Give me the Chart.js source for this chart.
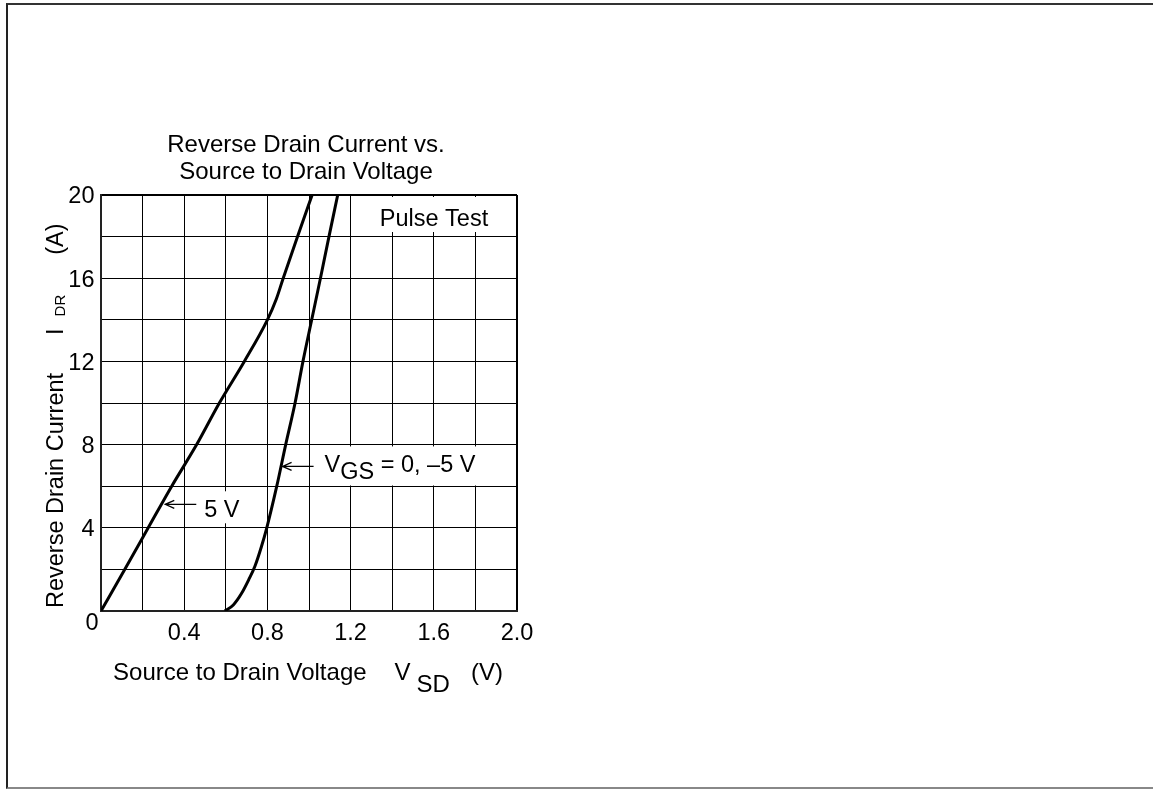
<!DOCTYPE html>
<html><head><meta charset="utf-8">
<script src="https://cdn.jsdelivr.net/npm/chart.js@4.4.0/dist/chart.umd.min.js"></script>
<style>
html,body{margin:0;padding:0;background:#fff;}
#wrap{position:relative;width:1153px;height:789px;overflow:hidden;}
#frame{position:absolute;left:6px;top:3px;width:1200px;height:782px;border-left:2px solid #222;border-top:2px solid #333;border-bottom:2px solid #888;}
canvas{position:absolute;left:0;top:0;}
</style></head><body>
<div id="wrap"><div id="frame"></div><canvas id="c" width="1153" height="789"></canvas></div>
<script>
// ---- data ----
const xTickValues = [0, 0.4, 0.8, 1.2, 1.6, 2.0];
const xTickLabels = ['0', '0.4', '0.8', '1.2', '1.6', '2.0'];
const yTickValues = [0, 4, 8, 12, 16, 20];
const yTickLabels = ['0', '4', '8', '12', '16', '20'];
// VGS = 5 V curve
const vsd5V = [0, 0.114, 0.227, 0.34, 0.46, 0.569, 0.689, 0.80, 0.843, 0.876, 0.945, 1.015];
const idr5V = [0, 2, 4, 6, 8, 10, 12, 14, 15, 16, 18, 20];
// VGS = 0, -5 V curve
const vsd0V = [0.595, 0.636, 0.676, 0.71, 0.74, 0.77, 0.797, 0.845, 0.888, 0.933, 0.971, 1.013, 1.055, 1.096, 1.138];
const idr0V = [0, 0.29, 0.85, 1.5, 2.15, 3.05, 4, 6, 8, 10, 12, 14, 16, 18, 20];
const titleLines = ['Reverse Drain Current vs.', 'Source to Drain Voltage'];
const xLabelParts = ['Source to Drain Voltage', 'V', 'SD', '(V)'];
const yLabelParts = ['Reverse Drain Current', 'I', 'DR', '(A)'];
const pulseLabel = 'Pulse Test';
const note5 = {v: 0.309, i: 5.13, text: '5 V'};
const note0 = {v: 0.873, i: 6.95, main: 'V', sub: 'GS', rest: ' = 0, \u20135 V'};

const FONT = '"Liberation Sans", Arial, Helvetica, sans-serif';
const FS = 23.5;
const FT = 24;
function fnt(sz){ return sz + 'px ' + FONT; }
function near(a, b){ return Math.abs(a - b) < 1e-6; }

function arrow(ctx, x0, y0, len){
  ctx.beginPath();
  ctx.moveTo(x0 + len, y0); ctx.lineTo(x0, y0);
  ctx.moveTo(x0 + 9, y0 - 4); ctx.lineTo(x0, y0); ctx.lineTo(x0 + 9, y0 + 4);
  ctx.stroke();
}

const annot = {
  id: 'annot',
  afterDraw(chart){
    const {ctx, chartArea: a, scales: {x, y}} = chart;
    ctx.save();
    ctx.fillStyle = '#000';
    ctx.strokeStyle = '#000';
    ctx.textBaseline = 'alphabetic';
    const cx = (a.left + a.right) / 2;

    // title
    ctx.font = fnt(FT);
    ctx.textAlign = 'center';
    ctx.fillText(titleLines[0], cx - 3, a.top - 43.5);
    ctx.fillText(titleLines[1], cx - 3, a.top - 16);

    // origin label
    ctx.font = fnt(FS);
    ctx.fillText(xTickLabels[0], a.left - 9, a.bottom + 19);

    // Pulse Test box
    ctx.textAlign = 'left';
    const pw = ctx.measureText(pulseLabel).width;
    const px = a.right - 83 - pw / 2;
    ctx.fillStyle = '#fff';
    ctx.fillRect(px - 6, a.top + 2, pw + 12, 35);
    ctx.fillStyle = '#000';
    ctx.fillText(pulseLabel, px, a.top + 31);

    // 5 V note
    ctx.lineWidth = 1.3;
    let tx = x.getPixelForValue(note5.v), ty = y.getPixelForValue(note5.i);
    let w = ctx.measureText(note5.text).width;
    ctx.fillStyle = '#fff';
    ctx.fillRect(tx + 35, ty - 13, w + 8, 32);
    ctx.fillStyle = '#000';
    arrow(ctx, tx, ty, 31);
    ctx.fillText(note5.text, tx + 39, ty + 13);

    // VGS note
    tx = x.getPixelForValue(note0.v); ty = y.getPixelForValue(note0.i);
    const w1 = ctx.measureText(note0.main).width;
    const w2 = ctx.measureText(note0.sub).width;
    const w3 = ctx.measureText(note0.rest).width;
    ctx.fillStyle = '#fff';
    ctx.fillRect(tx + 37, ty - 20, w1 + w2 + w3 + 10, 39);
    ctx.fillStyle = '#000';
    arrow(ctx, tx, ty, 31);
    let sx = tx + 42;
    ctx.fillText(note0.main, sx, ty + 6); sx += w1;
    ctx.fillText(note0.sub, sx, ty + 13); sx += w2;
    ctx.fillText(note0.rest, sx, ty + 6);

    // x axis title
    ctx.font = fnt(FT);
    const xw = xLabelParts.map(t => ctx.measureText(t).width);
    const gaps = [28, 6, 21];
    const total = xw[0] + xw[1] + xw[2] + xw[3] + gaps[0] + gaps[1] + gaps[2];
    let lx = cx - 1 - total / 2;
    const xb = a.bottom + 69;
    ctx.fillText(xLabelParts[0], lx, xb); lx += xw[0] + gaps[0];
    ctx.fillText(xLabelParts[1], lx, xb); lx += xw[1] + gaps[1];
    ctx.fillText(xLabelParts[2], lx, xb + 12); lx += xw[2] + gaps[2];
    ctx.fillText(xLabelParts[3], lx, xb);

    // y axis title (rotated)
    ctx.font = fnt(FS);
    ctx.translate(a.left - 38, a.bottom - 3);
    ctx.rotate(-Math.PI / 2);
    const yw = yLabelParts.map(t => ctx.measureText(t).width);
    let ly = 0;
    ctx.fillText(yLabelParts[0], ly, 0); ly += yw[0] + 38;
    ctx.fillText(yLabelParts[1], ly, 0); ly += yw[1] + 12;
    ctx.font = fnt(15);
    const dw = ctx.measureText(yLabelParts[2]).width;
    ctx.fillText(yLabelParts[2], ly, 2); ly += dw + 40;
    ctx.font = fnt(FS);
    ctx.fillText(yLabelParts[3], ly, 0);
    ctx.restore();
  }
};

const pts = (xs, ys) => xs.map((v, i) => ({x: v, y: ys[i]}));

new Chart(document.getElementById('c'), {
  type: 'line',
  data: {
    datasets: [
      {data: pts(vsd5V, idr5V), borderColor: '#000', borderWidth: 3, pointRadius: 0, cubicInterpolationMode: 'monotone', fill: false},
      {data: pts(vsd0V, idr0V), borderColor: '#000', borderWidth: 3, pointRadius: 0, cubicInterpolationMode: 'monotone', fill: false}
    ]
  },
  options: {
    responsive: false,
    animation: false,
    devicePixelRatio: 1,
    layout: {padding: {left: 0, top: 195, right: 636, bottom: 0}},
    plugins: {legend: {display: false}, tooltip: {enabled: false}, title: {display: false}},
    scales: {
      x: {
        type: 'linear', min: 0, max: 2.0,
        afterFit(s){ s.height = 178; },
        grid: {color: '#000', lineWidth: c => (c.tick && near(c.tick.value, 2)) ? 2 : 1, drawTicks: false},
        border: {display: true, color: '#222', width: 2},
        ticks: {
          stepSize: 0.2, autoSkip: false, maxRotation: 0, padding: 8,
          color: '#000', font: {family: FONT, size: FS},
          callback: v => { const i = xTickValues.findIndex(t => near(t, v)); return i > 0 ? xTickLabels[i] : ''; }
        }
      },
      y: {
        type: 'linear', min: 0, max: 20,
        afterFit(s){ s.width = 101; },
        grid: {color: '#000', lineWidth: c => (c.tick && near(c.tick.value, 20)) ? 2 : 1, drawTicks: false},
        border: {display: true, color: '#222', width: 2},
        ticks: {
          stepSize: 2, autoSkip: false, padding: 6.5, labelOffset: 2,
          color: '#000', font: {family: FONT, size: FS},
          callback: v => { const i = yTickValues.findIndex(t => near(t, v)); return i > 0 ? yTickLabels[i] : ''; }
        }
      }
    }
  },
  plugins: [annot]
});
</script>
</body></html>
